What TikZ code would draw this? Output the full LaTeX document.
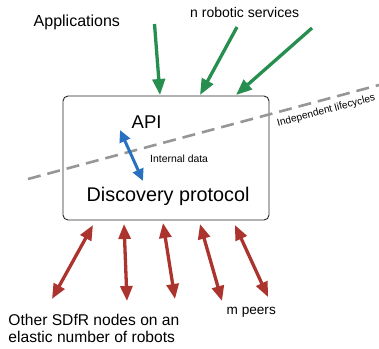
\documentclass[tikz,border=0pt]{standalone}
\usepackage{fontspec}
\setmainfont{Liberation Sans}
\usetikzlibrary{arrows.meta}
\definecolor{grn}{RGB}{38,143,80}
\definecolor{rd}{RGB}{172,52,47}
\definecolor{blu}{RGB}{40,112,192}
\definecolor{dgray}{RGB}{150,150,150}
\tikzset{
  garrow/.style={draw=grn,line width=3.3bp,-{Triangle[length=16bp,width=12.5bp]}},
  rarrow/.style={draw=rd,line width=3.3bp,{Triangle[length=15bp,width=12bp]}-{Triangle[length=15bp,width=12bp]}},
  barrow/.style={draw=blu,line width=3bp,{Triangle[length=12bp,width=11bp]}-{Triangle[length=12bp,width=11bp]}},
  lbl/.style={inner sep=0pt,anchor=base west},
  mainbox/.style={draw=black!85,line width=0.9bp,rounded corners=5bp,minimum width=206bp,minimum height=124bp,inner sep=0pt},
}
\begin{document}
\begin{tikzpicture}[x=1bp,y=-1bp]
\useasboundingbox (0,0) rectangle (379,349);
% box
\node[mainbox] (box) at (166,158) {};
% dashed lifecycle line
\coordinate (d1) at (28,179);
\coordinate (d2) at (379,85);
\draw[dgray,line width=2.6bp,dash pattern=on 13bp off 7bp] (d1) -- (d2);
\node[lbl,rotate=15,font=\fontsize{10.2bp}{12bp}\selectfont] (indep) at (278,126.5) {Independent lifecycles};
% texts
\node[lbl,font=\fontsize{16bp}{19bp}\selectfont] (apps) at (33.5,26) {Applications};
\node[lbl,font=\fontsize{14bp}{17bp}\selectfont] (nrs) at (190,17.7) {n robotic services};
\node[lbl,font=\fontsize{18.5bp}{22bp}\selectfont] (api) at (131.5,128) {API};
\node[lbl,font=\fontsize{19.8bp}{24bp}\selectfont] (disc) at (86.5,201.5) {Discovery protocol};
\node[lbl,font=\fontsize{10.4bp}{12bp}\selectfont] (intd) at (150,162.5) {Internal data};
\node[lbl,font=\fontsize{13.6bp}{16bp}\selectfont] (mp) at (226.5,314) {m peers};
\node[lbl,font=\fontsize{15.6bp}{18bp}\selectfont] (oth1) at (8.3,325.7) {Other SDfR nodes on an};
\node[lbl,font=\fontsize{15.6bp}{18bp}\selectfont] (oth2) at (8.3,342.7) {elastic number of robots};
% green arrows
\coordinate (g1s) at (154.5,24); \coordinate (g1e) at (160,95);
\coordinate (g2s) at (237,27);   \coordinate (g2e) at (200,95);
\coordinate (g3s) at (312,28);   \coordinate (g3e) at (236,95);
\draw[garrow] (g1s) -- (g1e);
\draw[garrow] (g2s) -- (g2e);
\draw[garrow] (g3s) -- (g3e);
% blue arrow
\coordinate (b1) at (120,130); \coordinate (b2) at (143,181);
\draw[barrow] (b1) -- (b2);
% red arrows
\coordinate (r1s) at (93,225);  \coordinate (r1e) at (52,299);
\coordinate (r2s) at (124,224); \coordinate (r2e) at (127,301);
\coordinate (r3s) at (163,223); \coordinate (r3e) at (175,299);
\coordinate (r4s) at (200,224); \coordinate (r4e) at (222,301);
\coordinate (r5s) at (235,225); \coordinate (r5e) at (268,297);
\draw[rarrow] (r1s) -- (r1e);
\draw[rarrow] (r2s) -- (r2e);
\draw[rarrow] (r3s) -- (r3e);
\draw[rarrow] (r4s) -- (r4e);
\draw[rarrow] (r5s) -- (r5e);
\end{tikzpicture}
\end{document}
